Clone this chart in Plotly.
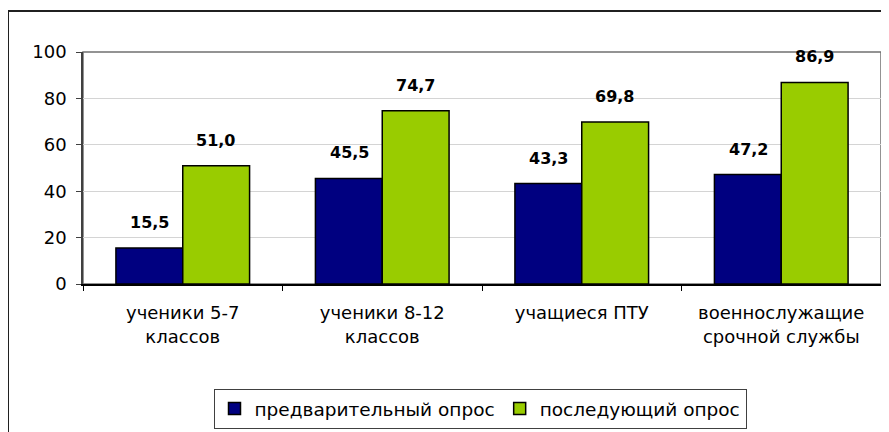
import plotly.graph_objects as go

categories = ["ученики 5-7<br>классов", "ученики 8-12<br>классов", "учащиеся ПТУ", "военнослужащие<br>срочной службы"]
series_names = ["предварительный опрос", "последующий опрос"]
pre_values = [15.5, 45.5, 43.3, 47.2]
post_values = [51.0, 74.7, 69.8, 86.9]
y_ticks = [0, 20, 40, 60, 80, 100]

colors = ["#000080", "#99CC00"]
FONT = "DejaVu Sans"

# page body has an 8px margin; compensate so the plot lands where the reference has it
OFF = 8
W, H = 889 - OFF, 432 - OFF
L, R, T, B = 83 - OFF, 8, 52 - OFF, 148
pw, ph = W - L - R, H - T - B


def py(y_page):
    return (H - B - (y_page - OFF)) / ph


def px(x_page):
    return ((x_page - OFF) - L) / pw


fig = go.Figure()
for name, vals, col in zip(series_names, [pre_values, post_values], colors):
    fig.add_trace(go.Bar(
        x=categories, y=vals, name=name,
        marker=dict(color=col, line=dict(color="black", width=1.5)),
    ))

annotations = []
for vals, shift in [(pre_values, -33), (post_values, 33)]:
    for c, v in zip(categories, vals):
        annotations.append(dict(
            x=c, y=v, xref="x", yref="y", text=f"{v:.1f}".replace(".", ","),
            showarrow=False, xshift=shift, yshift=14, yanchor="bottom",
            font=dict(family=FONT, size=16, color="black", weight="bold"),
        ))

shapes = [
    dict(type="rect", xref="paper", yref="paper", x0=0, x1=1, y0=0, y1=1,
         line=dict(color="#707070", width=1.5), layer="below"),
    dict(type="line", xref="paper", yref="paper",
         x0=px(8), x1=px(920), y0=py(11), y1=py(11),
         line=dict(color="#202020", width=2)),
    dict(type="line", xref="paper", yref="paper",
         x0=px(8), x1=px(8), y0=py(11), y1=py(460),
         line=dict(color="#202020", width=2)),
]

fig.update_layout(
    width=W, height=H,
    margin=dict(l=L, r=R, t=T, b=B, pad=0, autoexpand=False),
    paper_bgcolor="white", plot_bgcolor="white",
    barmode="group", bargap=0.33, bargroupgap=0,
    font=dict(family=FONT, size=18, color="black"),
    showlegend=True,
    legend=dict(
        orientation="h", x=px(480), xanchor="center",
        y=py(389), yanchor="top",
        bordercolor="#404040", borderwidth=1,
        font=dict(family=FONT, size=18.5, color="black"),
        itemwidth=30, tracegroupgap=0,
    ),
    annotations=annotations,
    shapes=shapes,
)
fig.update_xaxes(
    showline=True, linecolor="black", linewidth=1.5,
    ticks="outside", tickson="boundaries", ticklen=5, tickcolor="black",
    tickfont=dict(family=FONT, size=18, color="black"),
    ticklabelstandoff=12,
    showgrid=False,
)
fig.update_yaxes(
    range=[0, 100], tickvals=y_ticks, ticktext=[str(t) for t in y_ticks],
    showline=True, linecolor="#404040", linewidth=1.5,
    ticks="outside", ticklen=5, tickcolor="#404040",
    showgrid=True, gridcolor="#d4d4d4", gridwidth=1.2,
    zeroline=False,
    tickfont=dict(family=FONT, size=18, color="black"),
    ticklabelstandoff=6,
)

fig.write_html("out.html")
